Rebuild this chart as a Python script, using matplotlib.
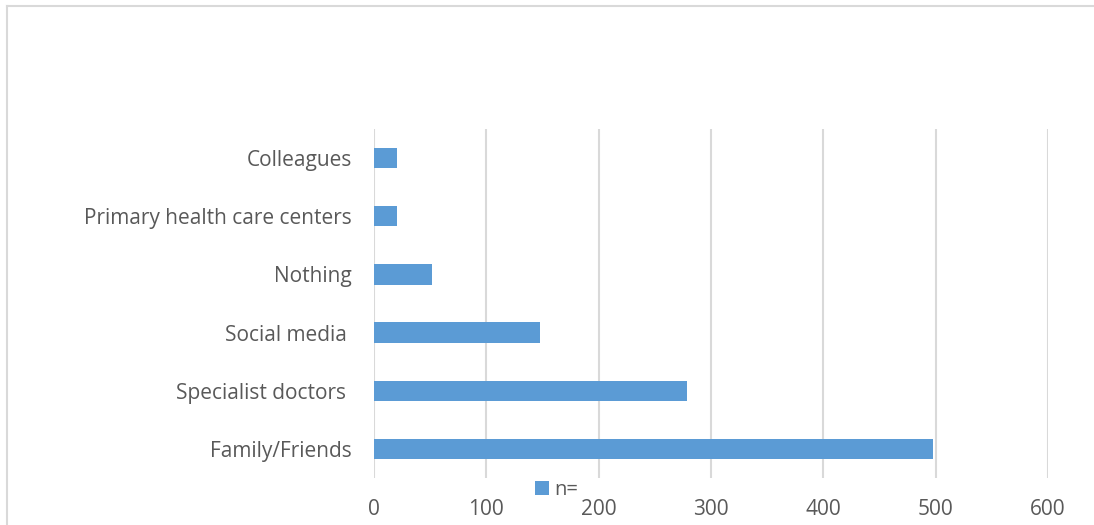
import matplotlib.pyplot as plt
from matplotlib.lines import Line2D

# data (bottom to top)
sources = ['Family/Friends', 'Specialist doctors ', 'Social media ', 'Nothing',
           'Primary health care centers', 'Colleagues']
counts = [498, 279, 148, 52, 20, 20]
xticks = [0, 100, 200, 300, 400, 500, 600]

plt.rcParams['font.family'] = ['Open Sans', 'DejaVu Sans']
txt = '#595959'

fig = plt.figure(figsize=(10.94, 5.25), dpi=100)
ax = fig.add_axes([0.3419, 0.0895, 0.958 - 0.3419, 0.7543 - 0.0895])

ax.barh(sources, counts, height=0.35, color='#5b9bd5', zorder=3, label='n=')

ax.set_xlim(0, 600)
ax.set_ylim(-0.5, len(sources) - 0.5)
ax.set_xticks(xticks)
ax.grid(axis='x', color='#d9d9d9', linewidth=1.5, zorder=0)
ax.grid(axis='y', visible=False)
for s in ax.spines.values():
    s.set_visible(False)
ax.tick_params(axis='both', length=0, colors=txt, labelsize=15)
ax.tick_params(axis='y', pad=16)
ax.tick_params(axis='x', pad=15)

fig.legend(loc='center', bbox_to_anchor=(557 / 1094, 1 - 490 / 525), frameon=False,
           fontsize=14.5, labelcolor=txt, handlelength=0.65, handleheight=0.65,
           handletextpad=0.3, borderpad=0)

# light grey frame (top and left edges visible)
fig.add_artist(Line2D([7 / 1094, 1], [1 - 6 / 525, 1 - 6 / 525], transform=fig.transFigure,
                      color='#d9d9d9', linewidth=1.5))
fig.add_artist(Line2D([7 / 1094, 7 / 1094], [0, 1 - 6 / 525], transform=fig.transFigure,
                      color='#d9d9d9', linewidth=1.5))

fig.savefig('out.png', dpi=100)
